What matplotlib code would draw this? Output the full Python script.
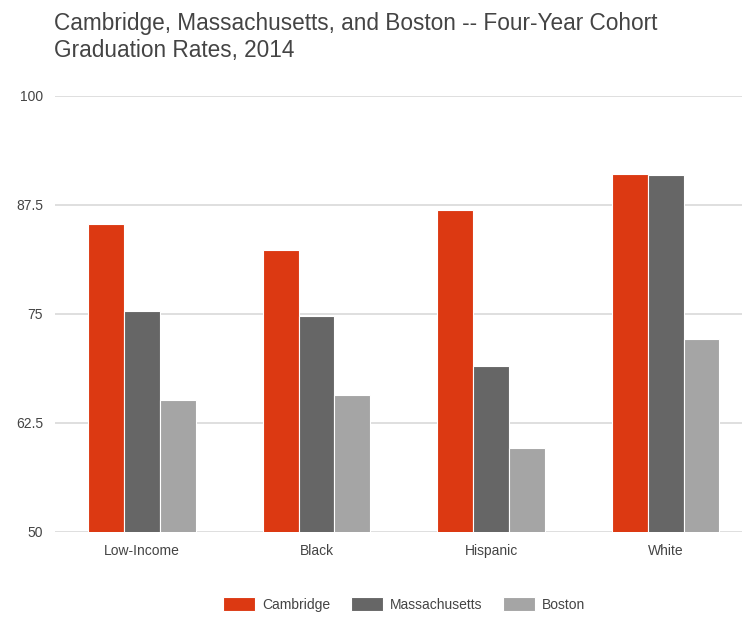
import numpy as np
import matplotlib.pyplot as plt

plt.rcParams['font.family'] = ['Liberation Sans', 'DejaVu Sans']

# four-year cohort graduation rates, 2014 (%)
groups = ['Low-Income', 'Black', 'Hispanic', 'White']
cambridge = [85.3, 82.3, 86.9, 91.0]
massachusetts = [75.3, 74.8, 69.0, 90.9]
boston = [65.1, 65.7, 59.6, 72.1]

series = [('Cambridge', cambridge, '#dc3912'),
          ('Massachusetts', massachusetts, '#666666'),
          ('Boston', boston, '#a5a5a5')]

fig = plt.figure(figsize=(7.42, 6.22), dpi=100)
ax = fig.add_axes([0.0737, 0.1447, 0.941, 0.701])

x = np.arange(len(groups))
width = 0.205
for i, (name, vals, color) in enumerate(series):
    ax.bar(x + (i - 1) * width, vals, width, color=color, edgecolor='white',
           linewidth=0.8, label=name, zorder=3)

ax.set_xlim(-0.5, len(groups) - 0.5)
ax.set_ylim(50, 100)
ax.set_yticks([50, 62.5, 75, 87.5, 100])
ax.set_yticklabels(['50', '62.5', '75', '87.5', '100'])
ax.set_xticks(x)
ax.set_xticklabels(groups)
ax.tick_params(axis='both', length=0, labelsize=10, colors='#444444')
ax.tick_params(axis='x', pad=9)
ax.tick_params(axis='y', pad=8.5)
ax.grid(axis='y', color='#d9d9d9', linewidth=1.2, zorder=0)
for s in ax.spines.values():
    s.set_visible(False)

fig.text(0.0728, 0.98, 'Cambridge, Massachusetts, and Boston -- Four-Year Cohort\nGraduation Rates, 2014',
         fontsize=16.3, color='#444444', ha='left', va='top', linespacing=1.2)

leg = fig.legend(loc='center', bbox_to_anchor=(0.545, 0.028), ncol=3, frameon=False,
                 fontsize=10, handlelength=2.3, handleheight=1.2, columnspacing=1.5,
                 handletextpad=0.5)
for t in leg.get_texts():
    t.set_color('#444444')

fig.savefig('out.png', dpi=100)
